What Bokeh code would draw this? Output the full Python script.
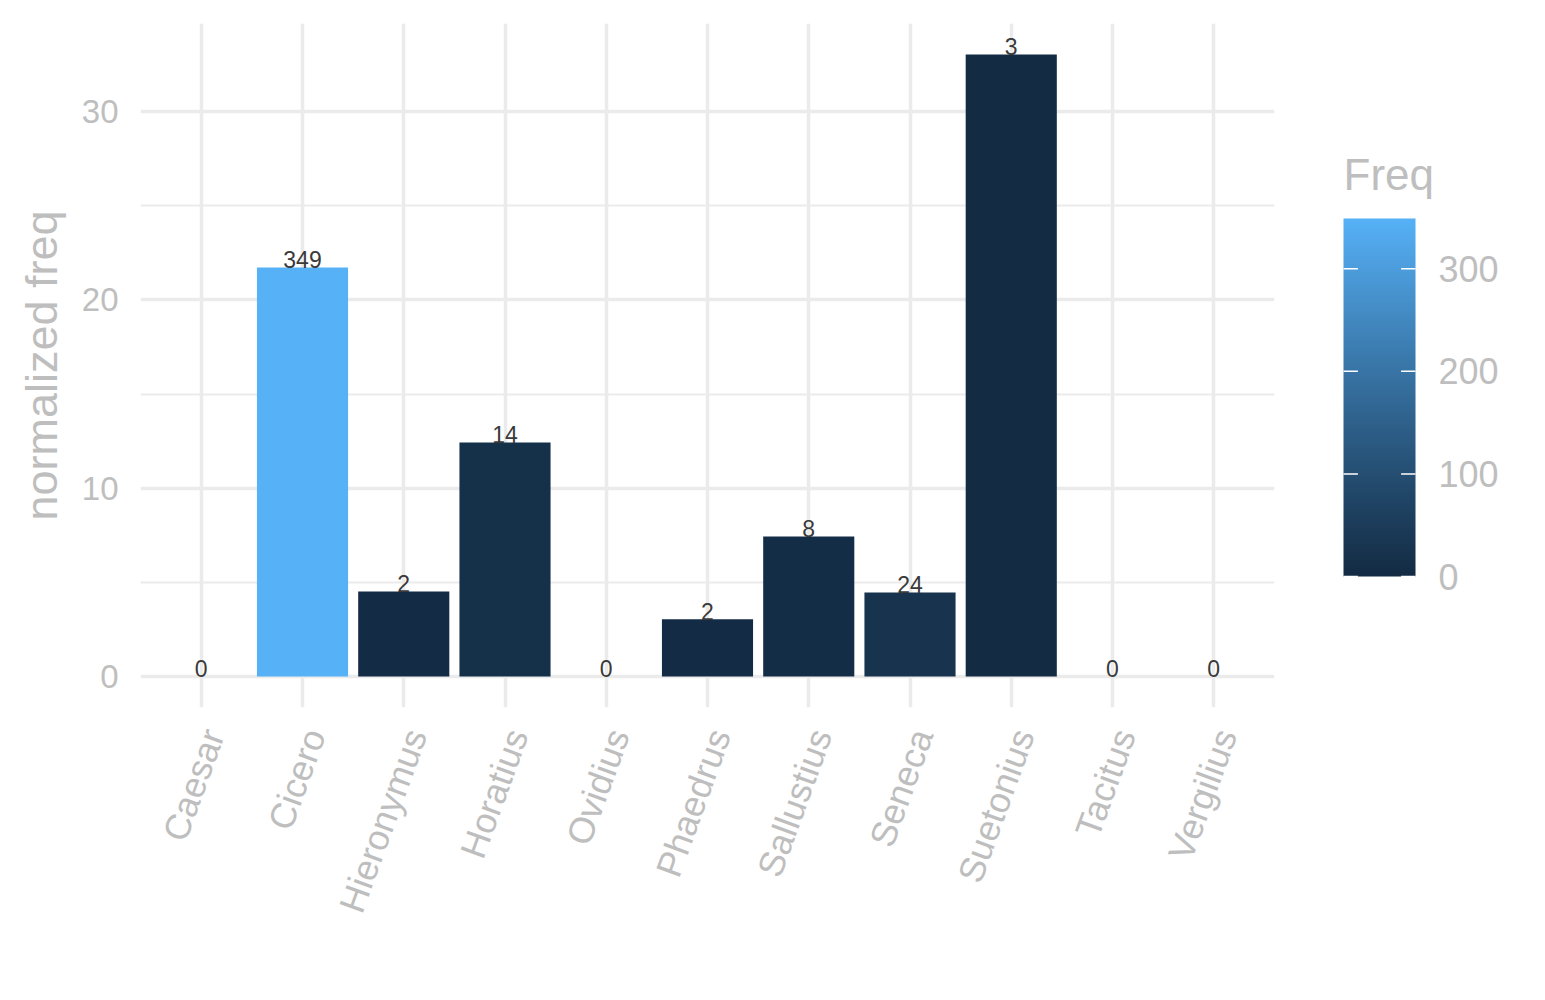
import numpy as np
from math import pi
from bokeh.plotting import figure
from bokeh.models import (ColumnDataSource, Range1d, FixedTicker,
                          LinearColorMapper, LinearAxis)
from bokeh.transform import transform
from bokeh.layouts import row
from bokeh.core.properties import value
from bokeh.embed import file_html
from bokeh.resources import INLINE

authors = ["Caesar", "Cicero", "Hieronymus", "Horatius", "Ovidius", "Phaedrus",
           "Sallustius", "Seneca", "Suetonius", "Tacitus", "Vergilius"]
freq = [0, 349, 2, 14, 0, 2, 8, 24, 3, 0, 0]
norm_freq = [0, 21.72, 4.51, 12.43, 0, 3.03, 7.43, 4.46, 33.03, 0, 0]
y_ticks = [0, 10, 20, 30]
y_minor_ticks = [5, 15, 25]
legend_ticks = [0, 100, 200, 300]

FONT = "Liberation Sans"
GREY = "#BEBEBE"
GRID = "#EBEBEB"
LOW, HIGH = "#132B43", "#56B1F7"


# ggplot's default gradient is interpolated in CIE Lab
def hex_to_lab(h):
    rgb = [int(h[i:i + 2], 16) / 255 for i in (1, 3, 5)]
    lin = [c / 12.92 if c <= 0.04045 else ((c + 0.055) / 1.055) ** 2.4 for c in rgb]
    x = (0.4124 * lin[0] + 0.3576 * lin[1] + 0.1805 * lin[2]) / 0.95047
    y = 0.2126 * lin[0] + 0.7152 * lin[1] + 0.0722 * lin[2]
    z = (0.0193 * lin[0] + 0.1192 * lin[1] + 0.9505 * lin[2]) / 1.08883
    f = lambda t: t ** (1 / 3) if t > 216 / 24389 else (24389 / 27 * t + 16) / 116
    fx, fy, fz = f(x), f(y), f(z)
    return 116 * fy - 16, 500 * (fx - fy), 200 * (fy - fz)


def lab_to_hex(L, a, b):
    fy = (L + 16) / 116
    fx = fy + a / 500
    fz = fy - b / 200
    finv = lambda t: t ** 3 if t ** 3 > 216 / 24389 else (116 * t - 16) / (24389 / 27)
    x, y, z = finv(fx) * 0.95047, finv(fy), finv(fz) * 1.08883
    r = 3.2406 * x - 1.5372 * y - 0.4986 * z
    g = -0.9689 * x + 1.8758 * y + 0.0415 * z
    bl = 0.0557 * x - 0.2040 * y + 1.0570 * z
    out = []
    for c in (r, g, bl):
        c = min(max(c, 0), 1)
        c = 12.92 * c if c <= 0.0031308 else 1.055 * c ** (1 / 2.4) - 0.055
        out.append(int(round(c * 255)))
    return "#%02x%02x%02x" % tuple(out)


lo, hi = hex_to_lab(LOW), hex_to_lab(HIGH)
palette = [lab_to_hex(*[lo[k] + (hi[k] - lo[k]) * i / 255 for k in range(3)]) for i in range(256)]
mapper = LinearColorMapper(palette=palette, low=0, high=max(freq))

n = len(authors)
positions = list(range(1, n + 1))
source = ColumnDataSource(dict(x=positions, author=authors, freq=freq, norm=norm_freq,
                               label=[str(v) for v in freq]))

# layout (pixels)
TOP, FRAME_H, BOTTOM = 23, 684, 277
LEFT, FRAME_W, RIGHT = 140, 1134, 40

pad = 0.05 * max(norm_freq)
p = figure(x_range=Range1d(0.4, n + 0.6),
           y_range=Range1d(-pad, max(norm_freq) + pad),
           frame_width=FRAME_W, frame_height=FRAME_H,
           min_border_left=LEFT, min_border_right=RIGHT, min_border_top=TOP, min_border_bottom=BOTTOM,
           output_backend="svg", toolbar_location=None)
p.outline_line_color = None

p.vbar(x="x", top="norm", width=0.9, source=source,
       fill_color=transform("freq", mapper), line_color=None)
p.text(x="x", y="norm", text="label", source=source, y_offset=-8,
       text_align="center", text_baseline="middle",
       text_font=value(FONT), text_font_size="23px", text_color="#3a3a3a")

# grid follows the (hidden) main x axis; author labels sit on a nudged copy of it,
# like ggplot's hjust=1 / vjust=1 for rotated text
p.xaxis.ticker = FixedTicker(ticks=positions, minor_ticks=[])
p.xaxis.visible = False
shift = 0.12
p.extra_x_ranges = {"labels": Range1d(0.4 - shift, n + 0.6 - shift)}
xlab = LinearAxis(x_range_name="labels",
                  ticker=FixedTicker(ticks=positions, minor_ticks=[]),
                  major_label_overrides={x: a for x, a in zip(positions, authors)})
p.add_layout(xlab, "below")

p.yaxis.ticker = FixedTicker(ticks=y_ticks, minor_ticks=y_minor_ticks)
p.yaxis.axis_label = "normalized freq"
for ax in (xlab, p.yaxis[0]):
    ax.axis_line_color = None
    ax.major_tick_line_color = None
    ax.minor_tick_line_color = None
    ax.major_tick_out = 0
    ax.major_tick_in = 0
    ax.major_label_text_font = FONT
    ax.major_label_text_color = GREY
    ax.axis_label_text_font = FONT
    ax.axis_label_text_color = GREY
    ax.axis_label_text_font_style = "normal"
    ax.axis_label_text_font_size = "45px"
p.yaxis.major_label_text_font_size = "33px"
p.yaxis.major_label_standoff = 18
p.yaxis.axis_label_standoff = 12
xlab.major_label_text_font_size = "36px"
xlab.major_label_orientation = 70 * pi / 180
xlab.major_label_standoff = 23

p.xgrid.grid_line_color = GRID
p.xgrid.grid_line_width = 3.5
p.ygrid.grid_line_color = GRID
p.ygrid.grid_line_width = 3.5
p.ygrid.minor_grid_line_color = GRID
p.ygrid.minor_grid_line_width = 2

# colour bar legend, built as its own figure with the same frame height
bar_left, bar_w = 29, 72
bar_top_px, bar_bottom_px = 218, 576
scale = (bar_bottom_px - bar_top_px) / max(freq)
leg = figure(frame_width=200, frame_height=FRAME_H, x_range=Range1d(0, 200),
             y_range=Range1d(-(TOP + FRAME_H - bar_bottom_px) / scale,
                             max(freq) + (bar_top_px - TOP) / scale),
             x_axis_location=None, y_axis_location=None,
             min_border_left=0, min_border_right=0, min_border_top=TOP, min_border_bottom=BOTTOM,
             output_backend="svg", toolbar_location=None)
leg.grid.visible = False
leg.outline_line_color = None

ramp = np.linspace(0, max(freq), 256).reshape(-1, 1)
leg.image(image=[ramp], x=bar_left, y=0, dw=bar_w, dh=max(freq), color_mapper=mapper)
tick_len = bar_w / 5
leg.segment(x0=bar_left, x1=bar_left + tick_len, y0=legend_ticks, y1=legend_ticks,
            line_color="white", line_width=1.5)
leg.segment(x0=bar_left + bar_w - tick_len, x1=bar_left + bar_w, y0=legend_ticks, y1=legend_ticks,
            line_color="white", line_width=1.5)
leg.text(x=bar_left + bar_w + 23, y=legend_ticks, text=[str(t) for t in legend_ticks],
         text_baseline="middle", text_align="left", text_font=value(FONT),
         text_font_size="36px", text_color=GREY)
leg.text(x=[bar_left], y=[max(freq) + (bar_top_px - 174) / scale], text=["Freq"],
         text_baseline="middle", text_align="left", text_font=value(FONT),
         text_font_size="44px", text_color=GREY)

layout = row(p, leg)
open("out.html", "w").write(file_html(layout, INLINE))
